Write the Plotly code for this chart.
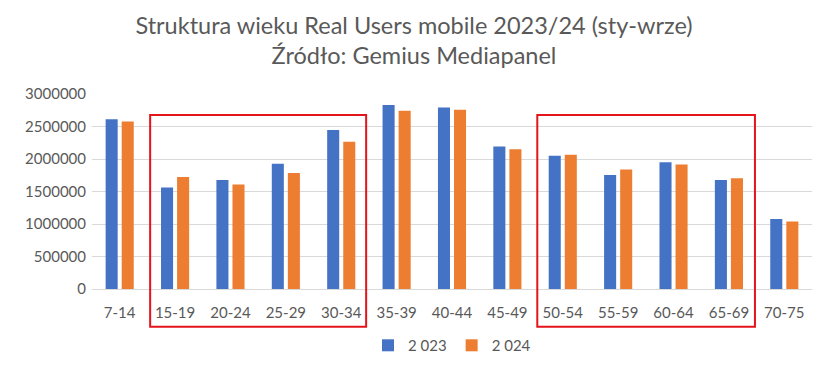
import plotly.graph_objects as go

categories = ["7-14", "15-19", "20-24", "25-29", "30-34", "35-39", "40-44",
              "45-49", "50-54", "55-59", "60-64", "65-69", "70-75"]
values_2023 = [2613000, 1563000, 1678000, 1925000, 2447000, 2829000, 2794000,
               2191000, 2050000, 1754000, 1950000, 1678000, 1075000]
values_2024 = [2578000, 1724000, 1608000, 1784000, 2266000, 2744000, 2759000,
               2151000, 2065000, 1839000, 1915000, 1704000, 1040000]
series_names = ["2 023", "2 024"]
title_lines = ["Struktura wieku Real Users mobile 2023/24 (sty-wrze)",
               "Źródło: Gemius Mediapanel"]
y_ticks = [0, 500000, 1000000, 1500000, 2000000, 2500000, 3000000]

FONT = "Lato"
TXT = "#595959"

fig = go.Figure()
fig.add_trace(go.Bar(x=categories, y=values_2023, name=series_names[0],
                     marker=dict(color="#4472C4", line=dict(width=0))))
fig.add_trace(go.Bar(x=categories, y=values_2024, name=series_names[1],
                     marker=dict(color="#ED7D31", line=dict(width=0))))

# red highlight boxes
for x0, x1 in [(0.55, 4.45), (7.54, 11.47)]:
    fig.add_shape(type="rect", xref="x", yref="paper", x0=x0, x1=x1,
                  y0=-0.193, y1=0.8925, line=dict(color="#E3151A", width=2),
                  fillcolor="rgba(0,0,0,0)", layer="above")

fig.update_layout(
    width=828, height=374,
    margin=dict(l=92, r=16, t=94, b=81),
    paper_bgcolor="white", plot_bgcolor="white",
    font=dict(family=FONT, color=TXT, size=15),
    title=dict(text="<br>".join(title_lines), x=0.5, xanchor="center",
               y=0.91, yanchor="top",
               font=dict(family=FONT, size=23.5, color=TXT)),
    barmode="group", bargap=0.42, bargroupgap=0.25,
    showlegend=True,
    legend=dict(orientation="h", x=0.5, xanchor="center", y=-0.29,
                yanchor="middle", font=dict(size=15, color=TXT),
                itemwidth=30, traceorder="normal"),
    xaxis=dict(type="category", showgrid=False, showline=False,
               automargin=False,
               ticks="outside", ticklen=10, tickcolor="rgba(0,0,0,0)",
               tickfont=dict(size=15, color=TXT), fixedrange=True),
    yaxis=dict(range=[0, 3000000], tickvals=y_ticks, tickformat="d",
               automargin=False,
               showgrid=True, gridcolor="#D9D9D9", gridwidth=1,
               zeroline=True, zerolinecolor="#D9D9D9", zerolinewidth=1,
               showline=False, ticks="outside", ticklen=2,
               tickcolor="rgba(0,0,0,0)",
               tickfont=dict(size=15, color=TXT), fixedrange=True),
)

fig.write_html("out.html",
               config={"displayModeBar": False},
               post_script="document.body.style.margin='0';"
                           "document.body.style.overflow='hidden';")
